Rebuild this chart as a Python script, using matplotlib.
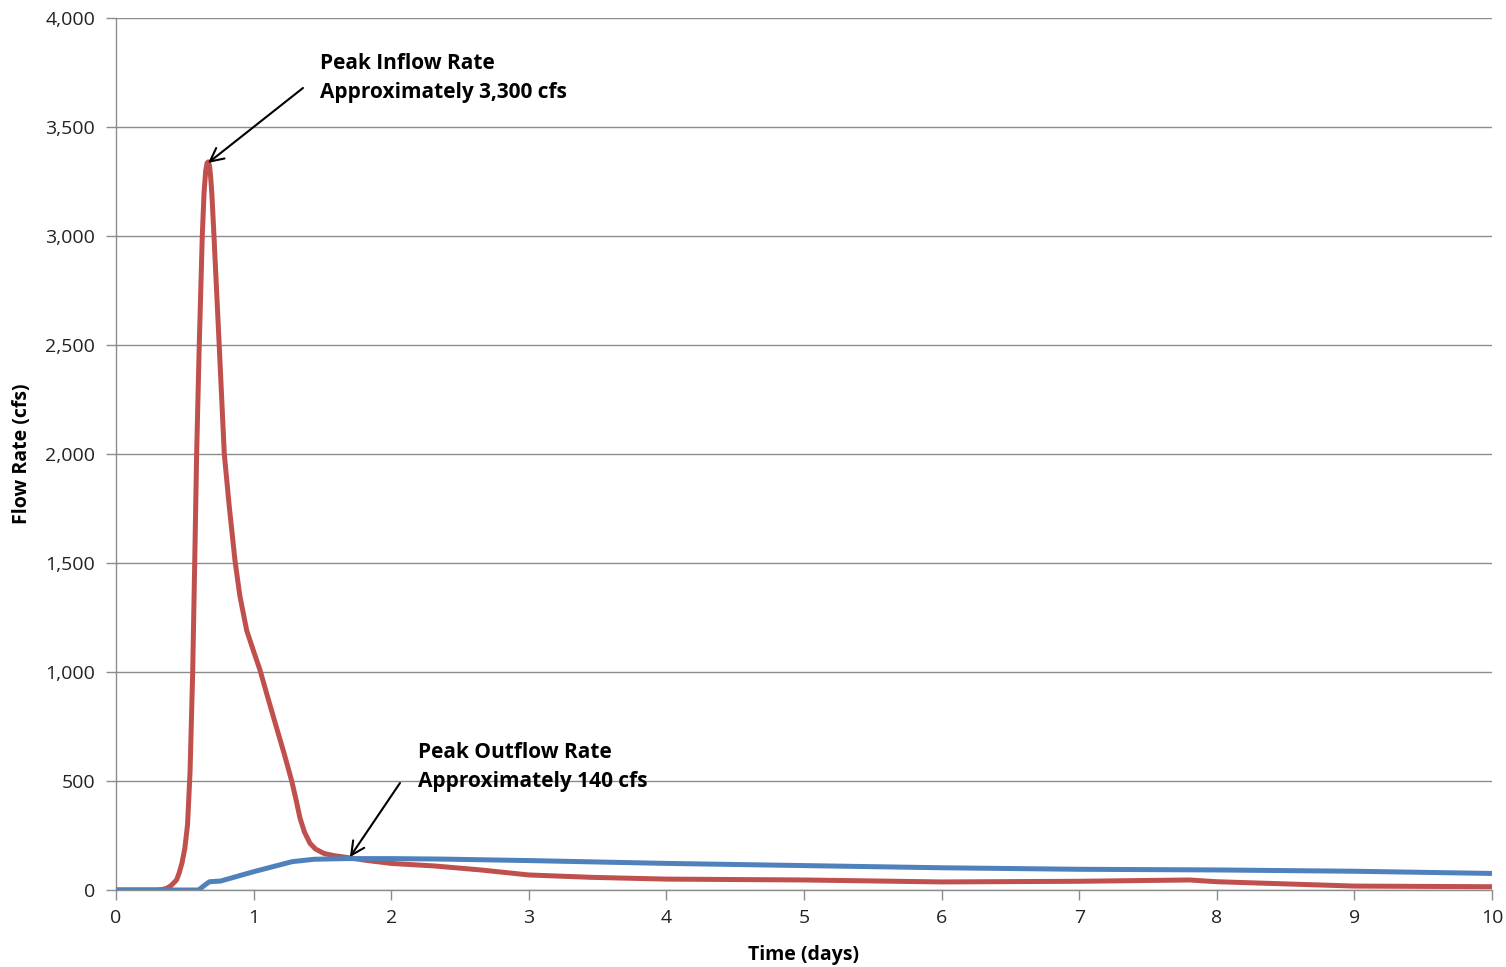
import matplotlib
matplotlib.use("Agg")
import matplotlib.pyplot as plt
from matplotlib.ticker import FuncFormatter

# Inflow (red)
inflow_days = [0, 0.30, 0.34, 0.37, 0.40, 0.44, 0.46, 0.48, 0.50, 0.52, 0.538, 0.557, 0.572,
               0.586, 0.605, 0.627, 0.640, 0.652, 0.662, 0.671, 0.680, 0.688, 0.697, 0.712,
               0.750, 0.787, 0.823, 0.865, 0.90, 0.95, 1.0, 1.046, 1.10, 1.155, 1.22, 1.277,
               1.31, 1.337, 1.37, 1.41, 1.45, 1.51, 1.58, 1.67, 1.83, 2.0, 2.32, 2.65, 3.0,
               3.46, 4.0, 5.0, 6.0, 7.0, 7.8, 8.0, 8.5, 9.0, 10.0]
inflow_cfs = [0, 0, 3, 8, 20, 46, 80, 125, 190, 300, 540, 990, 1500,
              2000, 2500, 3000, 3200, 3300, 3335, 3340, 3320, 3270, 3190, 3000,
              2500, 2000, 1760, 1510, 1350, 1190, 1095, 1010, 890, 770, 630, 500,
              410, 330, 265, 214, 188, 168, 158, 150, 135, 122, 110, 92, 69,
              58, 50, 46, 37, 40, 46, 38, 28, 18, 15]

# Outflow (blue)
outflow_days = [0, 0.60, 0.65, 0.68, 0.76, 1.0, 1.28, 1.44, 1.67, 2.0, 2.35, 3.0, 4.0,
                5.0, 6.0, 7.0, 8.0, 9.0, 10.0]
outflow_cfs = [0, 0, 25, 38, 41, 84, 130, 141, 144, 144, 142, 135, 122,
               112, 102, 95, 92, 86, 76]

x_ticks = list(range(0, 11))
y_ticks = list(range(0, 4001, 500))

plt.rcParams['font.family'] = ['Open Sans', 'DejaVu Sans']

fig = plt.figure(figsize=(15.06, 9.67), dpi=100)
ax = fig.add_axes([116/1506, 77/967, (1492-116)/1506, (890-18)/967])

ax.plot(inflow_days, inflow_cfs, color='#C0504D', lw=3.6, solid_joinstyle='round',
        solid_capstyle='round', zorder=3)
ax.plot(outflow_days, outflow_cfs, color='#4F81BD', lw=3.6, solid_joinstyle='round',
        solid_capstyle='round', zorder=3)

ax.set_xlim(0, 10)
ax.set_ylim(0, 4000)
ax.set_xticks(x_ticks)
ax.set_yticks(y_ticks)
ax.yaxis.set_major_formatter(FuncFormatter(lambda v, p: f"{int(v):,}"))
ax.grid(axis='y', color='#8c8c8c', lw=1.0)
ax.set_axisbelow(True)
for s in ['top', 'right']:
    ax.spines[s].set_visible(False)
for s in ['left', 'bottom']:
    ax.spines[s].set_color('#8c8c8c')
    ax.spines[s].set_linewidth(1.0)
ax.tick_params(axis='both', colors='#8c8c8c', length=7, width=1.0, labelsize=14,
               labelcolor='#222222')
ax.tick_params(axis='x', pad=7)
ax.tick_params(axis='y', pad=8)

ax.set_xlabel('Time (days)', fontsize=14, fontweight='bold')
ax.set_ylabel('Flow Rate (cfs)', fontsize=14, fontweight='bold')
ax.xaxis.set_label_coords((803 - 116) / 1376, (890 - 955) / 872)
ax.yaxis.set_label_coords((22 - 116) / 1376, (890 - 454) / 872)
ax.xaxis.label.set_va('center')
ax.yaxis.label.set_va('center')

arrow_style = dict(arrowstyle='->', color='black', lw=1.5, mutation_scale=24,
                   shrinkA=0, shrinkB=0)

# Annotation 1
ax.annotate('', xy=(0.669, 3335), xytext=(1.359, 3679), arrowprops=arrow_style, zorder=5)
ax.text(1.483, 3725, 'Peak Inflow Rate\nApproximately 3,300 cfs', fontsize=15,
        fontweight='bold', va='center', ha='left', linespacing=1.45, zorder=5)

# Annotation 2
ax.annotate('', xy=(1.70, 151), xytext=(2.064, 491), arrowprops=arrow_style, zorder=5)
ax.text(2.195, 564, 'Peak Outflow Rate\nApproximately 140 cfs', fontsize=15,
        fontweight='bold', va='center', ha='left', linespacing=1.45, zorder=5)

fig.savefig('out.png', dpi=100)
